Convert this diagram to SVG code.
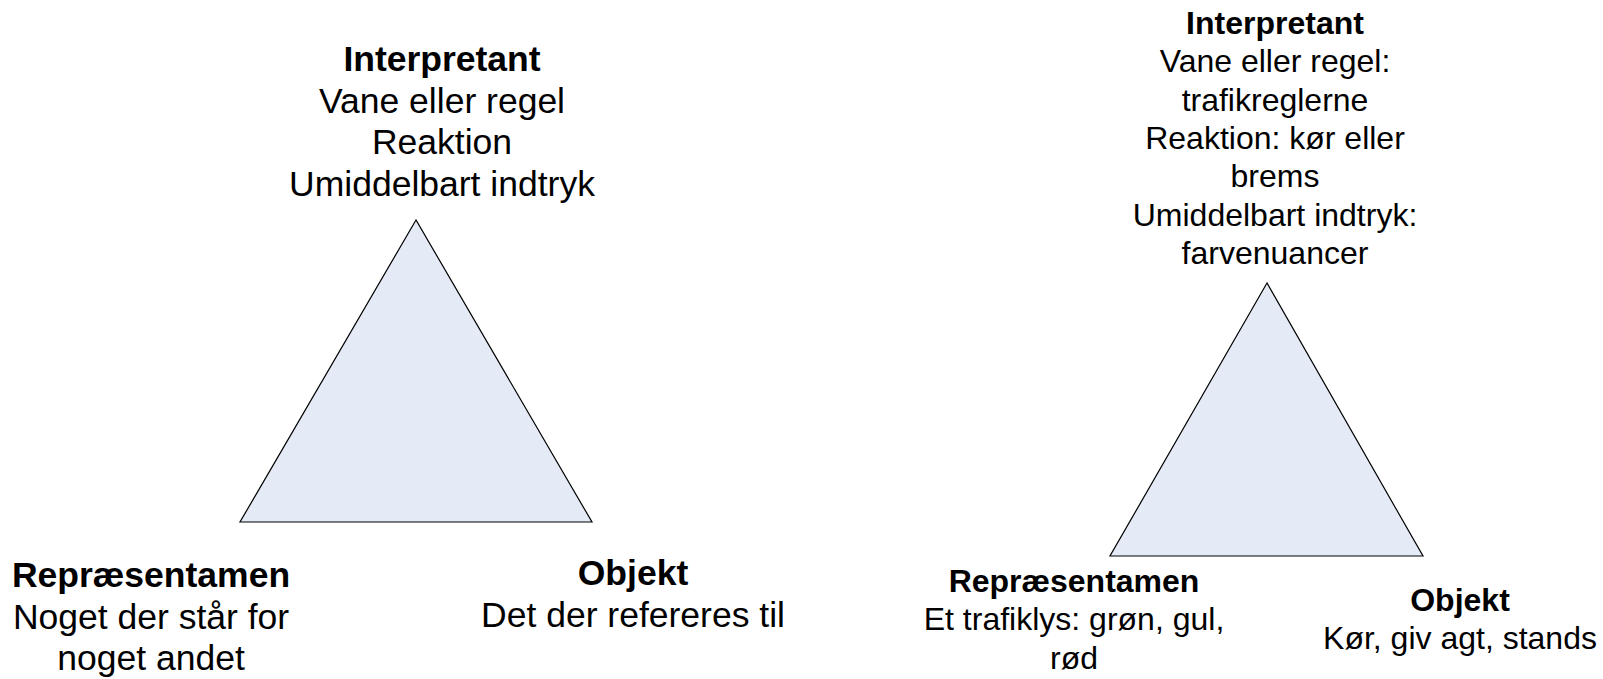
<svg xmlns="http://www.w3.org/2000/svg" width="1603" height="679" viewBox="0 0 1603 679">
  <style>
    .tri { fill: #E4EBF6; stroke: #000; stroke-width: 1.2; stroke-linejoin: miter; }
    text { font-family: "Liberation Sans", Arial, sans-serif; fill: #000; text-anchor: middle; }
    .big { font-size: 35.5px; }
    .small { font-size: 32px; }
    .b { font-weight: bold; }
  </style>
  <rect width="1603" height="679" fill="#fff"/>

  <!-- General sign triangle -->
  <g id="triangle-general">
    <polygon class="tri" points="416,220 240,522 592,522"/>
  </g>
  <g id="interpretant-general" class="big">
    <text x="442" y="71" class="b">Interpretant</text>
    <text x="442" y="112.5">Vane eller regel</text>
    <text x="442" y="154">Reaktion</text>
    <text x="442" y="195.5">Umiddelbart indtryk</text>
  </g>
  <g id="representamen-general" class="big">
    <text x="151" y="587" class="b">Repræsentamen</text>
    <text x="151" y="628.5">Noget der står for</text>
    <text x="151" y="670">noget andet</text>
  </g>
  <g id="objekt-general" class="big">
    <text x="633" y="585" class="b">Objekt</text>
    <text x="633" y="626.5">Det der refereres til</text>
  </g>

  <!-- Traffic light example triangle -->
  <g id="triangle-example">
    <polygon class="tri" points="1267,283 1110,556 1423,556"/>
  </g>
  <g id="interpretant-example" class="small">
    <text x="1275" y="34" class="b">Interpretant</text>
    <text x="1275" y="72.3">Vane eller regel:</text>
    <text x="1275" y="110.6">trafikreglerne</text>
    <text x="1275" y="148.9">Reaktion: kør eller</text>
    <text x="1275" y="187.2">brems</text>
    <text x="1275" y="225.5">Umiddelbart indtryk:</text>
    <text x="1275" y="263.8">farvenuancer</text>
  </g>
  <g id="representamen-example" class="small">
    <text x="1074" y="592" class="b">Repræsentamen</text>
    <text x="1074" y="630.3">Et trafiklys: grøn, gul,</text>
    <text x="1074" y="668.6">rød</text>
  </g>
  <g id="objekt-example" class="small">
    <text x="1460" y="610.5" class="b">Objekt</text>
    <text x="1460" y="648.8">Kør, giv agt, stands</text>
  </g>

  <!-- no connectors beyond the triangle outlines -->
  <g id="connectors"/>
</svg>
